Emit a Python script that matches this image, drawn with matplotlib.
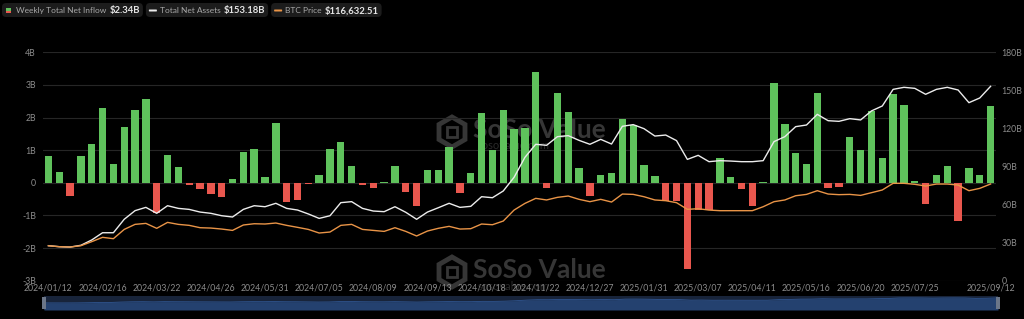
import numpy as np
import pandas as pd
import matplotlib
matplotlib.use('Agg')
import matplotlib.pyplot as plt
from matplotlib.patches import FancyBboxPatch, RegularPolygon, Rectangle

plt.rcParams['font.family'] = ['Lato', 'DejaVu Sans']

# weekly data, 2024/01/12 .. 2025/09/12
weeks = pd.date_range('2024-01-12', periods=88, freq='7D')

# Weekly total net inflow (B USD)
net_inflow = [
    0.82, 0.34, -0.40, 0.82, 1.19, 2.28, 0.58, 1.72, 2.24, 2.57,
    -0.91, 0.85, 0.48, -0.08, -0.20, -0.34, -0.43, 0.11, 0.95, 1.05,
    0.17, 1.83, -0.58, -0.54, -0.04, 0.24, 1.04, 1.24, 0.53, -0.08,
    -0.17, 0.02, 0.51, -0.28, -0.71, 0.40, 0.40, 1.10, -0.31, 0.31,
    2.14, 1.00, 2.23, 1.64, 1.68, 3.40, -0.15, 2.74, 2.18, 0.45,
    -0.40, 0.25, 0.31, 1.96, 1.78, 0.56, 0.20, -0.55, -0.55, -2.63,
    -0.84, -0.84, 0.75, 0.19, -0.18, -0.71, 0.02, 3.05, 1.80, 0.92,
    0.59, 2.74, -0.15, -0.12, 1.39, 1.02, 2.21, 0.77, 2.72, 2.37,
    0.06, -0.64, 0.24, 0.53, -1.18, 0.44, 0.24, 2.34,
]

# Total net assets (B USD)
net_assets = [
    27.6, 26.8, 26.5, 27.9, 32.1, 37.8, 37.8, 48.4, 55.2, 57.8,
    53.1, 59.1, 57.0, 56.2, 54.1, 53.1, 51.2, 50.2, 56.2, 59.1,
    58.3, 61.0, 57.0, 55.7, 52.6, 49.1, 51.2, 61.5, 62.3, 57.0,
    54.9, 54.4, 58.3, 53.9, 48.4, 54.1, 57.5, 61.0, 57.8, 58.6,
    66.2, 65.4, 70.7, 81.5, 97.2, 107.5, 106.7, 113.5, 114.3, 110.6,
    107.5, 111.4, 107.7, 121.7, 123.0, 119.8, 114.0, 114.8, 110.4, 95.6,
    98.8, 93.8, 94.6, 94.3, 93.8, 93.8, 94.6, 109.6, 113.5, 121.4,
    122.7, 131.1, 126.1, 125.6, 127.7, 126.7, 133.8, 137.7, 150.8, 152.4,
    151.6, 146.9, 150.8, 152.4, 150.3, 140.3, 144.0, 153.18,
]

# BTC price (USD)
btc_price = [
    48100, 47000, 46600, 48100, 52600, 57400, 55900, 66200, 71800, 72900,
    67400, 74000, 71800, 70700, 68100, 67700, 66600, 65100, 71100, 72500,
    72200, 73300, 70700, 68500, 66200, 62200, 63300, 70700, 71800, 66200,
    65100, 64000, 68100, 64000, 58900, 64400, 67400, 69600, 66600, 67000,
    72200, 71400, 75500, 87700, 95100, 100700, 98900, 101800, 103300, 99600,
    97000, 99600, 96600, 105500, 105100, 102500, 98900, 98100, 95900, 88500,
    89200, 87700, 87000, 87000, 87000, 87000, 91400, 97000, 98900, 103600,
    105100, 109200, 105500, 104800, 105100, 104000, 107000, 110000, 117400, 117400,
    116300, 114400, 116600, 116600, 115500, 109200, 111800, 116632.51,
]

left_ticks = [4, 3, 2, 1, 0, -1, -2, -3]
left_labels = ['4B', '3B', '2B', '1B', '0', '-1B', '-2B', '-3B']
right_ticks = [180, 150, 120, 90, 60, 30, 0]
right_labels = ['180B', '150B', '120B', '90B', '60B', '30B', '0']
tick_idx = list(range(0, 81, 5)) + [87]

bg = '#000000'
green = '#5fc25c'
red = '#e9574e'
white = '#ececec'
orange = '#e99447'
grid = '#262626'
label_c = '#8c8c8c'

W, H = 1024, 319
fig = plt.figure(figsize=(W / 100, H / 100), dpi=100, facecolor=bg)

def fx(x):
    return x / W

def fy(y):
    return 1 - y / H

x = np.arange(len(weeks))

# watermarks, behind the plot
for cy in (132, 272):
    fig.patches.append(RegularPolygon((4.52, (H - cy) / 100), 6, radius=0.15,
                                      transform=fig.dpi_scale_trans, fill=False,
                                      ec='#363636', lw=3.5, zorder=0))
    fig.patches.append(Rectangle((4.47, (H - cy) / 100 - 0.05), 0.10, 0.10,
                                 transform=fig.dpi_scale_trans, fill=False,
                                 ec='#363636', lw=2.0, zorder=0))
    fig.text(fx(473), fy(cy - 2), 'SoSo Value', color='#363636', fontsize=19,
             fontweight='bold', va='center', ha='left', zorder=0)
    fig.text(fx(478), fy(cy + 14), 'sosovalue.com', color='#2a2a2a',
             fontsize=8, va='center', ha='left', zorder=0)

ax = fig.add_axes([fx(43), fy(280.7), fx(996) - fx(43), fy(52.3) - fy(280.7)])
ax.patch.set_visible(False)
ax.set_zorder(1)

colors = [green if v >= 0 else red for v in net_inflow]
ax.bar(x, net_inflow, width=0.68, color=colors, zorder=2)
ax.set_ylim(-3, 4)
ax.set_xlim(-0.5, len(weeks) - 0.5)
ax.set_yticks(left_ticks)
ax.set_yticklabels(left_labels)
ax.grid(axis='y', color=grid, lw=0.8, zorder=0)
ax.set_axisbelow(True)
ax.set_xticks(tick_idx)
ax.set_xticklabels([weeks[i].strftime('%Y/%m/%d') for i in tick_idx])
ax.tick_params(axis='both', colors=label_c, labelsize=6.3, length=0, pad=2)
ax.tick_params(axis='y', pad=5)
for s in ax.spines.values():
    s.set_visible(False)

ax2 = ax.twinx()
ax2.plot(x, net_assets, color=white, lw=1.0, zorder=4)
ax2.set_ylim(0, 180)
ax2.set_yticks(right_ticks)
ax2.set_yticklabels(right_labels)
ax2.tick_params(axis='y', colors=label_c, labelsize=6.3, length=0, pad=4)
for s in ax2.spines.values():
    s.set_visible(False)

ax3 = ax.twinx()
ax3.plot(x, btc_price, color=orange, lw=1.0, zorder=3)
ax3.set_ylim(9230, 262930)
ax3.set_yticks([])
for s in ax3.spines.values():
    s.set_visible(False)

# navigator strip
nav = fig.add_axes([fx(44), fy(310), fx(998) - fx(44), fy(296) - fy(310)])
nav.set_facecolor('#18243a')
nav.fill_between(x, net_assets, -150, color='#24416f', lw=0)
nav.plot(x, net_assets, color='#2f5590', lw=0.6)
nav.set_xlim(0, len(weeks) - 1)
nav.set_ylim(-150, 200)
nav.set_xticks([])
nav.set_yticks([])
for s in nav.spines.values():
    s.set_visible(False)
for hx in (fx(44), fx(998)):
    fig.patches.append(Rectangle((hx - 0.002, fy(309)), 0.004, fy(297) - fy(309),
                                 transform=fig.transFigure, fc='#6b7688', ec='none', zorder=5))

# legend chips at the top
renderer = fig.canvas.get_renderer()

def chip(x0, icon, label, value):
    t1 = fig.text(fx(x0 + 14), fy(10.5), label, color='#a8a8a8', fontsize=6.0,
                  va='center', ha='left', zorder=3)
    e1 = t1.get_window_extent(renderer)
    t2 = fig.text(e1.x1 / W + fx(3), fy(10.5), value, color='#e6e6e6', fontsize=6.8,
                  fontweight='bold', va='center', ha='left', zorder=3)
    e2 = t2.get_window_extent(renderer)
    x1 = e2.x1 + 3
    fig.patches.append(FancyBboxPatch((fx(x0), fy(17)), x1 / W - fx(x0), fy(3) - fy(17),
                                      boxstyle='round,pad=0,rounding_size=0.004',
                                      mutation_aspect=W / H, transform=fig.transFigure,
                                      fc='#1c1c1c', ec='none', zorder=1))
    icon(x0)
    return x1

def icon_bar(x0):
    fig.patches.append(Rectangle((fx(x0 + 4), fy(10.5)), fx(5), fy(8) - fy(10.5),
                                 transform=fig.transFigure, fc=green, ec='none', zorder=2))
    fig.patches.append(Rectangle((fx(x0 + 4), fy(13)), fx(5), fy(10.5) - fy(13),
                                 transform=fig.transFigure, fc=red, ec='none', zorder=2))

def icon_line(c):
    def f(x0):
        fig.patches.append(FancyBboxPatch((fx(x0 + 3), fy(11.5)), fx(8), fy(9.5) - fy(11.5),
                                          boxstyle='round,pad=0,rounding_size=0.001',
                                          transform=fig.transFigure, fc=c, ec='none', zorder=2))
    return f

end1 = chip(2, icon_bar, 'Weekly Total Net Inflow', '$2.34B')
end2 = chip(end1 + 3, icon_line(white), 'Total Net Assets', '$153.18B')
chip(end2 + 3, icon_line(orange), 'BTC Price', '$116,632.51')

fig.savefig('out.png', dpi=100, facecolor=bg)
